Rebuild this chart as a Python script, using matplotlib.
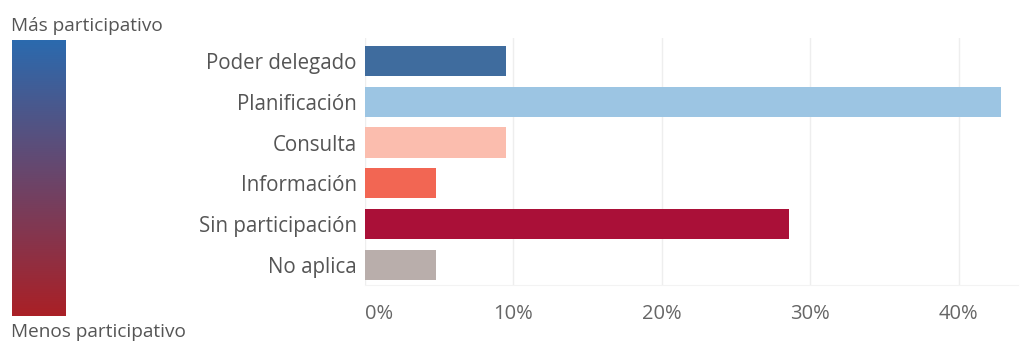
import numpy as np
import matplotlib
matplotlib.use("Agg")
from matplotlib import pyplot as plt
from matplotlib.colors import LinearSegmentedColormap

categorias = ["Poder delegado", "Planificación", "Consulta", "Información",
              "Sin participación", "No aplica"]
conteos = [2, 9, 2, 1, 6, 1]
total = sum(conteos)
porcentajes = [100.0 * c / total for c in conteos]
colores = ["#3f6c9e", "#9cc5e3", "#fbbdae", "#f26653", "#aa1038", "#b9aeab"]
ticks = [0, 10, 20, 30, 40]
tick_labels = ["0%", "10%", "20%", "30%", "40%"]

plt.rcParams["font.family"] = ["Open Sans", "DejaVu Sans"]

fig = plt.figure(figsize=(10.21, 3.43), dpi=100)

# barra de gradiente a la izquierda
ax_g = fig.add_axes([12 / 1021, 1 - 316 / 343, 54 / 1021, 276 / 343])
cmap = LinearSegmentedColormap.from_list("part", ["#2b6aae", "#aa2026"])
ax_g.imshow(np.linspace(0, 1, 256).reshape(-1, 1), aspect="auto", cmap=cmap)
ax_g.axis("off")
fig.text(11 / 1021, 1 - 26 / 343, "Más participativo", fontsize=13.7,
         color="#555555", va="center", ha="left")
fig.text(11 / 1021, 1 - 332 / 343, "Menos participativo", fontsize=13.7,
         color="#555555", va="center", ha="left")

# grafico principal
ax = fig.add_axes([365 / 1021, 1 - 285 / 343, 653 / 1021, 247 / 343])
y = np.arange(len(categorias))
ax.barh(y, porcentajes, height=0.74, color=colores, zorder=2)
ax.set_xlim(0, 44)
ax.set_ylim(5.49, -0.56)
ax.set_yticks(y)
ax.set_yticklabels(categorias, fontsize=14.8, color="#555555")
ax.set_xticks(ticks)
ax.set_xticklabels(tick_labels, fontsize=14.5, color="#666666")
ax.get_xticklabels()[0].set_horizontalalignment("left")
ax.tick_params(axis="both", length=0)
ax.tick_params(axis="y", pad=6)
ax.tick_params(axis="x", pad=14)
ax.grid(True, axis="x", color="#eeeeee", linewidth=1, zorder=0)
for s in ["top", "right", "left"]:
    ax.spines[s].set_visible(False)
ax.spines["bottom"].set_color("#f3f3f3")

plt.savefig("out.png", dpi=100)
